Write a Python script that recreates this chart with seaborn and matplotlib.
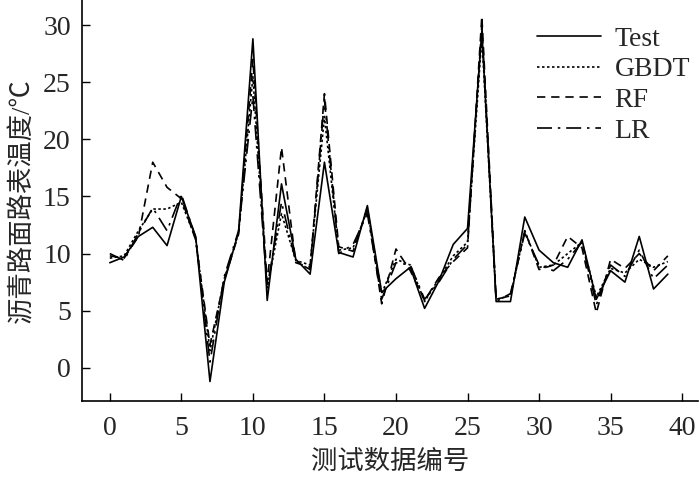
import seaborn as sns
import matplotlib.pyplot as plt
import pandas as pd
import numpy as np

# -------------------------------
# 1. Data
# -------------------------------
idx = list(range(40))

test = [9.2, 9.7, 11.5, 12.3, 10.7, 15.0, 11.5, -1.2, 7.5, 11.9,
        28.8, 5.9, 16.1, 9.5, 8.2, 18.0, 10.1, 9.7, 14.2, 6.6,
        7.8, 8.8, 5.2, 7.6, 10.8, 12.2, 29.5, 5.8, 5.8, 13.2,
        10.3, 9.2, 8.8, 11.2, 6.0, 8.5, 7.5, 11.5, 6.9, 8.2]

gbdt = [9.6, 9.8, 12.0, 13.9, 13.9, 14.5, 11.3, 1.5, 7.8, 11.8,
        25.5, 7.0, 13.5, 9.4, 9.0, 22.0, 10.3, 10.5, 13.8, 6.5,
        9.5, 9.0, 5.8, 7.8, 9.8, 11.0, 29.0, 6.0, 6.3, 12.0,
        8.8, 9.0, 10.0, 11.0, 6.2, 8.7, 8.3, 9.5, 8.8, 9.3]

rf = [9.8, 9.6, 11.5, 18.0, 15.8, 14.8, 11.2, 2.0, 7.7, 11.7,
      27.0, 7.5, 19.3, 9.2, 8.8, 24.0, 10.6, 10.2, 14.0, 5.6,
      10.4, 8.5, 5.9, 7.9, 9.3, 10.5, 30.8, 6.0, 6.3, 12.0,
      8.6, 9.0, 11.5, 10.5, 4.8, 9.5, 8.7, 10.0, 8.5, 9.8]

lr = [10.0, 9.4, 11.8, 14.0, 12.0, 15.2, 11.4, 0.5, 8.0, 12.0,
      23.8, 7.0, 14.5, 9.3, 8.6, 23.5, 10.0, 10.8, 13.5, 6.0,
      9.2, 9.0, 6.0, 7.5, 9.5, 10.8, 30.0, 5.8, 6.5, 11.8,
      9.0, 8.5, 9.5, 11.0, 5.5, 9.0, 8.0, 10.3, 7.8, 9.0]

series = {"Test": test, "GBDT": gbdt, "RF": rf, "LR": lr}
styles = {"Test": "-", "GBDT": (0, (1.5, 1.5)), "RF": (0, (5, 3.5)), "LR": (0, (9, 3.5, 1.5, 3.5))}

df = pd.DataFrame({"idx": idx, **series})

# -------------------------------
# 2. Styling
# -------------------------------
sns.set_style("ticks")
plt.rcParams['font.family'] = ['Liberation Serif', 'Noto Sans CJK SC']
plt.rcParams['xtick.direction'] = 'in'
plt.rcParams['ytick.direction'] = 'in'

fig = plt.figure(figsize=(7, 4.79), dpi=100)
ax = fig.add_axes([0.117, 0.163, 0.88, 0.837])

for name in series:
    sns.lineplot(data=df, x="idx", y=name, ax=ax, color="black",
                 linewidth=1.2, linestyle=styles[name], label=name)

ax.set_xlim(-1.95, 41.1)
ax.set_ylim(-2.9, 32.2)
ax.set_xticks(range(0, 41, 5))
ax.set_yticks(range(0, 31, 5))
ax.tick_params(labelsize=20, length=6, width=1, color="black")
ax.tick_params(axis="x", pad=11)
ax.tick_params(axis="y", pad=8)
sns.despine(ax=ax)
for s in ("left", "bottom"):
    ax.spines[s].set_linewidth(1.2)
    ax.spines[s].set_color("black")

ax.set_xlabel("测试数据编号", fontsize=19, labelpad=6)
ax.set_ylabel("沥青路面路表温度/℃", fontsize=19, labelpad=6)

ax.legend(loc="upper right", bbox_to_anchor=(1.028, 0.997), frameon=False,
          fontsize=20, handlelength=2.3, handletextpad=0.5, labelspacing=0.19)

plt.savefig("out.png", dpi=100)
plt.close()
